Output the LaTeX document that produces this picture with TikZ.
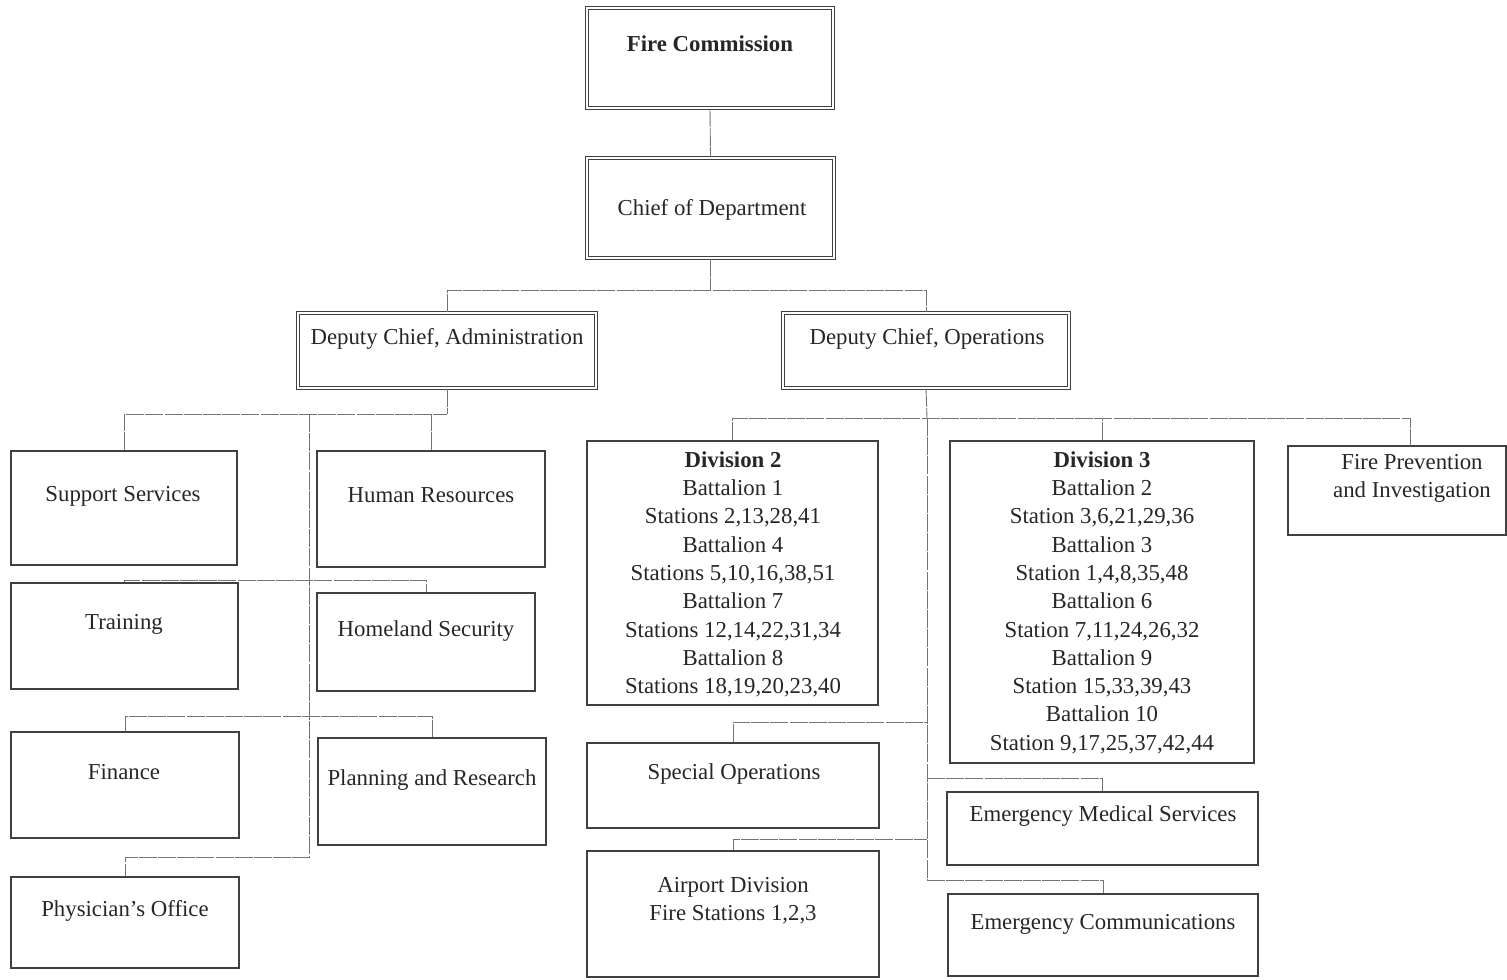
\documentclass[tikz,border=0pt]{standalone}
\usepackage{fontspec}
\setmainfont{Liberation Serif}
\usetikzlibrary{fit}
\begin{document}
\begin{tikzpicture}[x=0.5pt,y=-0.5pt,
  box/.style={draw=black!75, line width=0.8pt, inner sep=0pt},
  dbox/.style={draw=black!75, line width=0.6pt, double, double distance=1.1pt, inner sep=0pt},
  lbl/.style={font=\fontsize{11.4}{14.15}\selectfont, text=black!85, inner sep=0pt, align=center},
  conn/.style={draw=black!55, line width=0.45pt, dash pattern=on 9pt off 0.6pt}]
\useasboundingbox (0,0) rectangle (1507,979);
\newcommand\bx[6][box]{\node[#1, fit={(#3,#4) (#5,#6)}] (#2) {};}
% top
\bx[dbox]{fc}{587}{8}{833}{108}
\bx[dbox]{cod}{587}{158}{834}{258}
\bx[dbox]{dca}{298}{313}{596}{388}
\bx[dbox]{dco}{783}{313}{1069}{388}
% admin
\bx{ss}{11}{451}{237}{565}
\bx{hr}{317}{451}{545}{567}
\bx{tr}{11}{583}{238}{689}
\bx{hs}{317}{593}{535}{691}
\bx{fin}{11}{732}{239}{838}
\bx{pr}{318}{738}{546}{845}
\bx{po}{11}{877}{239}{968}
% operations
\bx{dv2}{587}{441}{878}{705}
\bx{dv3}{950}{441}{1254}{763}
\bx{fp}{1288}{446}{1506}{535}
\bx{so}{587}{743}{879}{828}
\bx{ems}{947}{792}{1258}{865}
\bx{air}{587}{851}{879}{977}
\bx{ec}{948}{894}{1258}{976}
% texts
\node[lbl, anchor=base] (fc-t) at (710,52) {\textbf{Fire Commission}};
\node[lbl, anchor=base] (cod-t) at (712,215) {Chief of Department};
\node[lbl, anchor=base] (dca-t) at (447,344) {Deputy Chief, Administration};
\node[lbl, anchor=base] (dco-t) at (927,344) {Deputy Chief, Operations};
\node[lbl, anchor=base] (ss-t) at (123,501) {Support Services};
\node[lbl, anchor=base] (hr-t) at (431,502) {Human Resources};
\node[lbl, anchor=base] (tr-t) at (124,629) {Training};
\node[lbl, anchor=base] (hs-t) at (426,636) {Homeland Security};
\node[lbl, anchor=base] (fin-t) at (124,779) {Finance};
\node[lbl, anchor=base] (pr-t) at (432,785) {Planning and Research};
\node[lbl, anchor=base] (po-t) at (125,916) {Physician's Office};
\node[lbl, anchor=north] (dv2-t) at (733,451) {\textbf{Division 2}\\Battalion 1\\Stations 2,13,28,41\\Battalion 4\\Stations 5,10,16,38,51\\Battalion 7\\Stations 12,14,22,31,34\\Battalion 8\\Stations 18,19,20,23,40};
\node[lbl, anchor=north] (dv3-t) at (1102,451) {\textbf{Division 3}\\Battalion 2\\Station 3,6,21,29,36\\Battalion 3\\Station 1,4,8,35,48\\Battalion 6\\Station 7,11,24,26,32\\Battalion 9\\Station 15,33,39,43\\Battalion 10\\Station 9,17,25,37,42,44};
\node[lbl, anchor=north] (fp-t) at (1412,454) {Fire Prevention\\and Investigation};
\node[lbl, anchor=base] (so-t) at (734,779) {Special Operations};
\node[lbl, anchor=base] (ems-t) at (1103,821) {Emergency Medical Services};
\node[lbl, anchor=north] (air-t) at (733,877) {Airport Division\\Fire Stations 1,2,3};
\node[lbl, anchor=base] (ec-t) at (1103,929) {Emergency Communications};
% bus coordinates
\coordinate (busA) at (0,290);
\coordinate (busB) at (0,414);
\coordinate (busC) at (0,580);
\coordinate (busD) at (0,716);
\coordinate (busE) at (0,857);
\coordinate (spA) at (309,414);
\coordinate (busO) at (0,418);
\coordinate (busP) at (0,722);
\coordinate (busQ) at (0,778);
\coordinate (busR) at (0,839);
\coordinate (busS) at (0,880);
\coordinate (spO) at (927,418);
\coordinate (fpk) at (1410,446);
% connectors
\draw[conn] (fc.south) -- (cod.north);
\draw[conn] (cod.south) -- (cod.south |- busA);
\draw[conn] (dca.north) |- (dco.north |- busA) -- (dco.north);
\draw[conn] (dca.south) -- (dca.south |- busB);
\draw[conn] (ss.north) |- (dca.south |- busB);
\draw[conn] (hr.north) -- (hr.north |- busB);
\draw[conn] (spA) -- (spA |- busE) -| (po.north);
\draw[conn] (tr.north) -- (tr.north |- busC) -| (hs.north);
\draw[conn] (fin.north) |- (pr.north |- busD) -- (pr.north);
\draw[conn] (dco.south) -- (spO);
\draw[conn] (dv2.north) |- (fpk |- busO) -- (fpk);
\draw[conn] (dv3.north) -- (dv3.north |- busO);
\draw[conn] (spO) -- (spO |- busS);
\draw[conn] (so.north) |- (spO |- busP);
\draw[conn] (air.north) |- (spO |- busR);
\draw[conn] (spO |- busQ) -| (ems.north);
\draw[conn] (spO |- busS) -| (ec.north);
\end{tikzpicture}
\end{document}
